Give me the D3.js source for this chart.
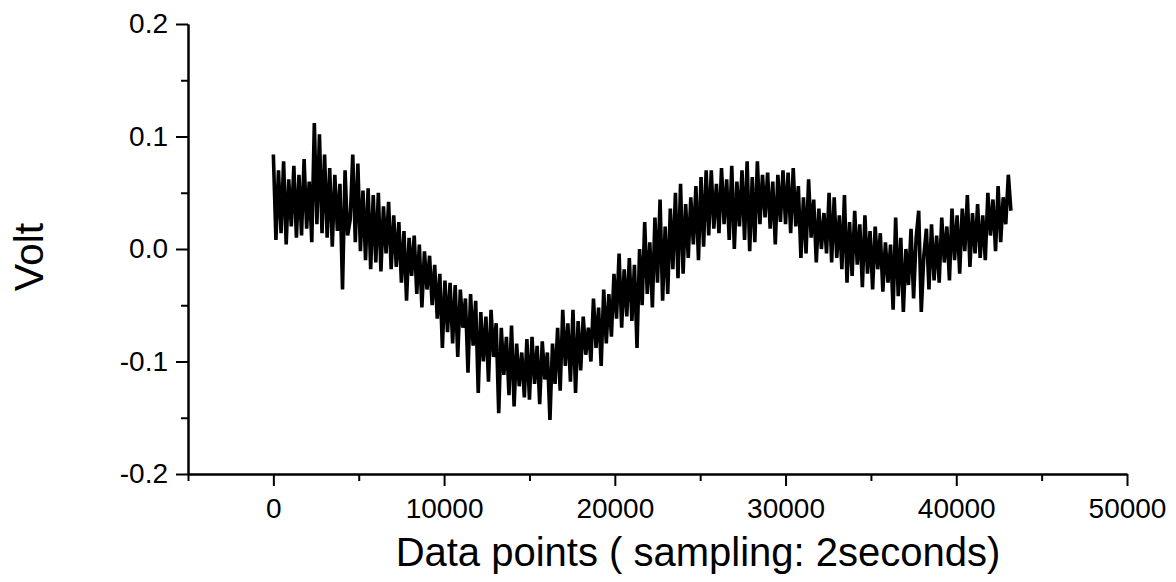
<!DOCTYPE html>
<html lang="en">
<head>
    <meta charset="UTF-8">
    <title>Volt vs data points</title>
    <script src="https://cdn.jsdelivr.net/npm/d3@7"></script>
    <style>
        body { margin: 0; background: #fff; }
        .axis path,
        .axis line {
            fill: none;
            stroke: #000;
            stroke-width: 2px;
        }
        .axis text {
            font-family: "Liberation Sans", Arial, sans-serif;
            font-size: 28px;
            fill: #000;
        }
        .label {
            font-family: "Liberation Sans", Arial, sans-serif;
            fill: #000;
        }
    </style>
</head>
<body>
<script>
    // tick labels
    const xTicks = [0, 10000, 20000, 30000, 40000, 50000];
    const xMinor = [-5000, 5000, 15000, 25000, 35000, 45000];
    const yTicks = [-0.2, -0.1, 0.0, 0.1, 0.2];
    const yMinor = [-0.15, -0.05, 0.05, 0.15];

    // one reading every 150 data points, in millivolts
    const sampleStep = 150;
    const voltsMilli = [
        84, 8, 70, 14, 78, 4, 62, 20, 74, 10,
        66, 12, 80, 18, 60, 6, 112, 22, 102, 14,
        84, 10, 72, 2, 66, 16, 58, -36, 70, 12,
        26, 84, 6, 76, -2, 52, -10, 54, -18, 48,
        -12, 50, -20, 38, -4, 42, -18, 30, -16, 24,
        -30, 16, -46, 10, -24, 12, -40, 4, -52, -2,
        -36, -6, -50, -14, -62, -22, -88, -28, -74, -30,
        -84, -32, -96, -36, -70, -44, -110, -40, -86, -46,
        -128, -56, -100, -60, -118, -54, -96, -66, -146, -70,
        -112, -78, -130, -68, -140, -84, -122, -92, -132, -80,
        -134, -78, -120, -86, -138, -82, -116, -92, -152, -84,
        -120, -70, -126, -54, -104, -66, -118, -54, -128, -64,
        -108, -60, -94, -70, -100, -44, -88, -52, -104, -36,
        -84, -40, -78, -22, -62, -4, -70, -18, -60, -8,
        -64, -14, -88, 0, -50, 24, -40, 6, -52, 28,
        -30, 44, -46, 20, -40, 36, -18, 50, -26, 58,
        -22, 40, -8, 46, 4, 56, -10, 64, 2, 70,
        12, 70, 18, 58, 14, 72, 22, 62, 8, 74,
        0, 60, 20, 70, 8, 78, -2, 64, 6, 78,
        22, 66, 28, 68, 18, 60, 4, 66, 24, 70,
        22, 68, 14, 72, 20, 56, -8, 46, -4, 62,
        10, 44, -12, 36, 0, 32, -4, 50, -12, 46,
        -8, 30, -18, 48, -30, 24, -24, 34, -14, 22,
        -34, 30, -22, 16, -36, 20, -18, 14, -38, 6,
        -30, 4, -54, 28, -42, 10, -56, 0, -32, 18,
        -44, 10, 34, -56, -6, 18, -36, 22, -28, 12,
        -30, 28, -12, 20, -28, 36, -10, 30, -22, 36,
        -2, 48, -16, 32, -4, 40, -8, 30, -10, 50,
        12, 44, -2, 56, 6, 46, 22, 66, 34
    ];

    const w = 1176, h = 582;

    const svg = d3.select('body')
        .append('svg')
        .attr('width', w)
        .attr('height', h);

    const xScale = d3.scaleLinear()
        .domain([-5000, 50000])
        .range([188, 1127]);

    const yScale = d3.scaleLinear()
        .domain([-0.2, 0.2])
        .range([474, 24]);

    // signal (drawn heavy so the noise band reads as solid like the scan)
    const line = d3.line()
        .x((d, i) => xScale(i * sampleStep))
        .y(d => yScale(d / 1000));

    svg.append('path')
        .datum(voltsMilli)
        .attr('fill', 'none')
        .attr('stroke', '#000')
        .attr('stroke-width', 3.6)
        .attr('stroke-linejoin', 'bevel')
        .attr('d', line);

    // plain hyphen for negatives, as in the original
    const yFormat = d => d3.format('.1f')(d).replace('\u2212', '-');

    // minor ticks first, major axes on top
    svg.append('g')
        .attr('class', 'axis')
        .attr('transform', 'translate(0,' + yScale(-0.2) + ')')
        .call(d3.axisBottom(xScale).tickValues(xMinor).tickSize(7).tickSizeOuter(0).tickFormat(''));

    svg.append('g')
        .attr('class', 'axis')
        .attr('transform', 'translate(' + xScale(-5000) + ',0)')
        .call(d3.axisLeft(yScale).tickValues(yMinor).tickSize(7).tickSizeOuter(0).tickFormat(''));

    svg.append('g')
        .attr('class', 'axis')
        .attr('transform', 'translate(0,' + yScale(-0.2) + ')')
        .call(d3.axisBottom(xScale).tickValues(xTicks).tickSize(12).tickSizeOuter(0).tickPadding(12).tickFormat(d3.format('d')));

    svg.append('g')
        .attr('class', 'axis')
        .attr('transform', 'translate(' + xScale(-5000) + ',0)')
        .call(d3.axisLeft(yScale).tickValues(yTicks).tickSize(12).tickSizeOuter(0).tickPadding(8).tickFormat(yFormat));

    // axis titles
    svg.append('text')
        .attr('class', 'label')
        .attr('x', 698)
        .attr('y', 566)
        .attr('text-anchor', 'middle')
        .attr('font-size', 40)
        .text('Data points ( sampling: 2seconds)');

    svg.append('text')
        .attr('class', 'label')
        .attr('transform', 'translate(43,257) rotate(-90)')
        .attr('text-anchor', 'middle')
        .attr('font-size', 41)
        .text('Volt');
</script>
</body>
</html>
